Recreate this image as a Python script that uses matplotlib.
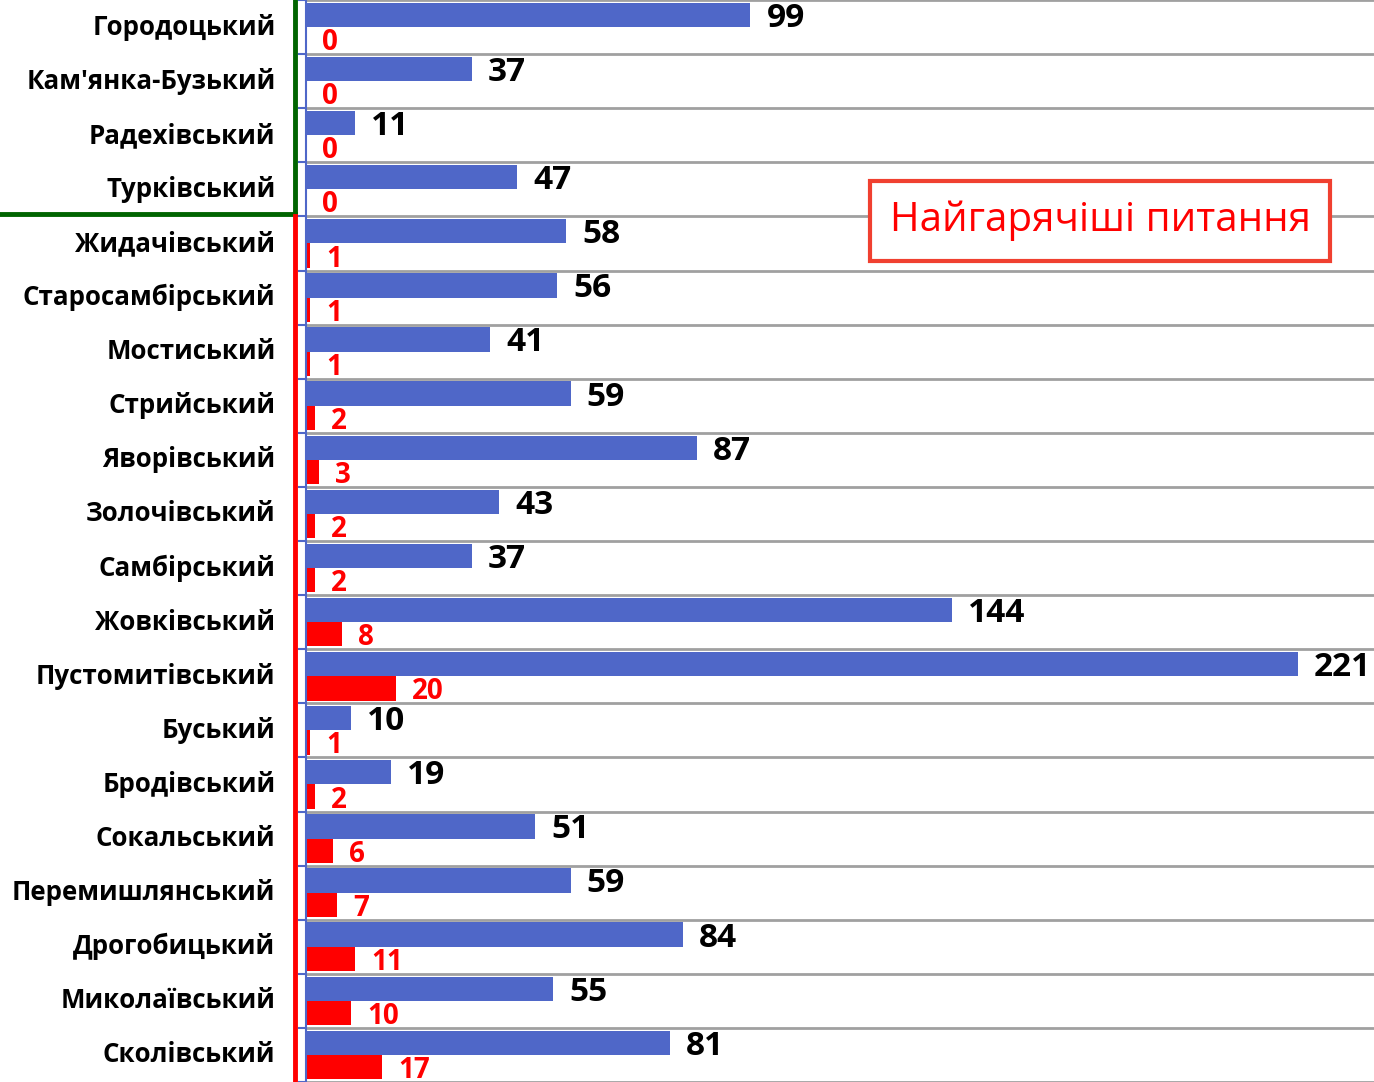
import matplotlib.pyplot as plt
import matplotlib.transforms as mtransforms
import numpy as np

plt.rcParams['font.family'] = ['Open Sans', 'DejaVu Sans']

# districts and counts
districts = ['Городоцький', "Кам'янка-Бузький", 'Радехівський', 'Турківський',
             'Жидачівський', 'Старосамбірський', 'Мостиський', 'Стрийський',
             'Яворівський', 'Золочівський', 'Самбірський', 'Жовківський',
             'Пустомитівський', 'Буський', 'Бродівський', 'Сокальський',
             'Перемишлянський', 'Дрогобицький', 'Миколаївський', 'Сколівський']
total = [99, 37, 11, 47, 58, 56, 41, 59, 87, 43, 37, 144, 221, 10, 19, 51, 59, 84, 55, 81]
hot = [0, 0, 0, 0, 1, 1, 1, 2, 3, 2, 2, 8, 20, 1, 2, 6, 7, 11, 10, 17]
n_green = 4  # first districts with no hot issues

blue = '#4F67C8'
red = '#FF0000'

fig = plt.figure(figsize=(13.74, 10.82), dpi=100)
ax = fig.add_axes([306 / 1374, 0, 1 - 306 / 1374, 1])

y = np.arange(len(districts))
h = 0.45
ax.barh(y - h / 2, total, height=h, color=blue, zorder=3)
ax.barh(y + h / 2, hot, height=h, color=red, zorder=3)

for yi, v in zip(y, total):
    ax.annotate(str(v), (v, yi - h / 2), xytext=(11.5, -2.5), textcoords='offset points',
                va='center', ha='left', fontsize=24, fontweight='bold', color='black')
for yi, v in zip(y, hot):
    ax.annotate(str(v), (v, yi + h / 2), xytext=(11.5, -2.5), textcoords='offset points',
                va='center', ha='left', fontsize=20, fontweight='bold', color=red)

ax.set_xlim(0, 237.9)
ax.set_ylim(len(districts) - 0.5, -0.5)
ax.set_xticks([])
ax.set_yticks(y)
ax.set_yticklabels(districts, fontsize=18.6, fontweight='bold', va='center')
for lbl in ax.get_yticklabels():
    lbl.set_transform(lbl.get_transform() + mtransforms.ScaledTranslation(0, 2 / 72, fig.dpi_scale_trans))
ax.tick_params(axis='y', which='major', length=0, pad=22)
ax.set_yticks(np.arange(len(districts) + 1) - 0.5, minor=True)
ax.tick_params(axis='y', which='minor', length=6, width=1.5, color=blue)
ax.grid(axis='y', which='minor', color='#A0A0A0', linewidth=2, zorder=1)

for s in ['top', 'right', 'bottom']:
    ax.spines[s].set_visible(False)
ax.spines['left'].set_color(blue)
ax.spines['left'].set_linewidth(1.5)
ax.spines['left'].set_zorder(4)

# group markers on the left
tr = mtransforms.blended_transform_factory(fig.transFigure, ax.transData)
xl = 295 / 1374
ax.plot([xl, xl], [-0.5, n_green - 0.55], color='#006400', lw=3.5, transform=tr, clip_on=False)
ax.plot([0, xl], [n_green - 0.55, n_green - 0.55], color='#006400', lw=3.5, transform=tr,
        clip_on=False, solid_capstyle='projecting')
ax.plot([xl, xl], [n_green - 0.5, len(districts) - 0.5], color=red, lw=3.5, transform=tr,
        clip_on=False)

fig.text(0.8006, 0.7957, 'Найгарячіші питання', fontsize=29, color=red, ha='center', va='center',
         bbox=dict(boxstyle='square,pad=0.48', facecolor='white', edgecolor='#F04030',
                   linewidth=3))

fig.savefig('out.png', dpi=100)
